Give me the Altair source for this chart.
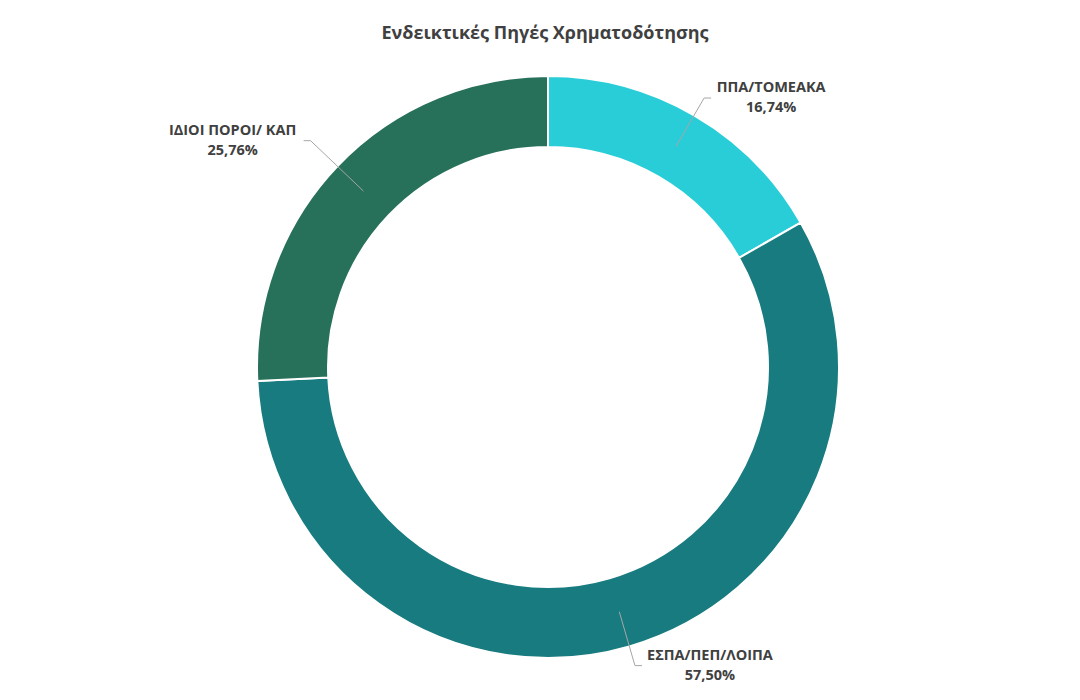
import math
import altair as alt
import pandas as pd

# ---- data ----
categories = ["ΠΠΑ/ΤΟΜΕΑΚΑ", "ΕΣΠΑ/ΠΕΠ/ΛΟΙΠΑ", "ΙΔΙΟΙ ΠΟΡΟΙ/ ΚΑΠ"]
shares = [16.74, 57.50, 25.76]
pct_labels = ["16,74%", "57,50%", "25,76%"]
colors = ["#29CDD8", "#177B7F", "#27705A"]
title_text = "Ενδεικτικές Πηγές Χρηματοδότησης"

# ---- layout ----
W, H = 1064, 684
CX, CY = 540, 359
R_OUT, R_IN = 291, 220
R_START, TICK = 255, 7
elbow_r = {"ΠΠΑ/ΤΟΜΕΑΚΑ": 311, "ΕΣΠΑ/ΠΕΠ/ΛΟΙΠΑ": 311, "ΙΔΙΟΙ ΠΟΡΟΙ/ ΚΑΠ": 328}
label_offset = {"ΠΠΑ/ΤΟΜΕΑΚΑ": 60, "ΕΣΠΑ/ΠΕΠ/ΛΟΙΠΑ": 68, "ΙΔΙΟΙ ΠΟΡΟΙ/ ΚΑΠ": 71}
FONT = "Open Sans"
TXT = "#404040"
LINE_GAP = 10

df = pd.DataFrame({"category": categories, "share": shares, "idx": range(len(categories))})

# leader lines and label anchors computed from the slice mid angles
total = sum(shares)
line_rows, label_rows = [], []
cum = 0.0
for cat, s, p in zip(categories, shares, pct_labels):
    mid = (cum + s / 2) / total * 2 * math.pi
    cum += s
    r_e = elbow_r[cat]
    sx, sy = CX + R_START * math.sin(mid), CY - R_START * math.cos(mid)
    ex, ey = CX + r_e * math.sin(mid), CY - r_e * math.cos(mid)
    side = 1 if math.sin(mid) >= 0 else -1
    tx = ex + side * TICK
    line_rows += [
        {"category": cat, "o": 0, "px": sx, "py": sy},
        {"category": cat, "o": 1, "px": ex, "py": ey},
        {"category": cat, "o": 2, "px": tx, "py": ey},
    ]
    lx = tx + side * label_offset[cat]
    label_rows.append({"lx": lx, "ly": ey - LINE_GAP, "text": cat})
    label_rows.append({"lx": lx, "ly": ey + LINE_GAP, "text": p})

lines_df = pd.DataFrame(line_rows)
labels_df = pd.DataFrame(label_rows)

arcs = alt.Chart(df).mark_arc(outerRadius=R_OUT, innerRadius=R_IN, stroke="white", strokeWidth=2).encode(
    theta=alt.Theta("share:Q", stack=True, scale=alt.Scale(domain=[0, total], range=[0, 2 * math.pi])),
    order=alt.Order("idx:Q"),
    color=alt.Color("category:N", scale=alt.Scale(domain=categories, range=colors), legend=None),
    x=alt.value(CX),
    y=alt.value(CY),
)

leaders = alt.Chart(lines_df).mark_line(color="#A6A6A6", strokeWidth=1).encode(
    x=alt.X("px:Q", scale=None, axis=None),
    y=alt.Y("py:Q", scale=None, axis=None),
    detail="category:N",
    order="o:Q",
)

labels = alt.Chart(labels_df).mark_text(
    font=FONT, fontSize=14.5, fontWeight="bold", color=TXT, align="center", baseline="middle",
).encode(
    x=alt.X("lx:Q", scale=None, axis=None),
    y=alt.Y("ly:Q", scale=None, axis=None),
    text="text:N",
)

title = alt.Chart(pd.DataFrame({"t": [title_text]})).mark_text(
    font=FONT, fontSize=18, fontWeight="bold", color=TXT, align="center", baseline="middle",
).encode(x=alt.value(CX - 3), y=alt.value(26), text="t:N")

chart = alt.layer(arcs, leaders, labels, title).properties(
    width=W, height=H, padding=0, autosize=alt.AutoSizeParams(type="none"), background="white"
).configure_view(stroke=None)

chart.save("out.html", embed_options={"renderer": "svg", "actions": False})
